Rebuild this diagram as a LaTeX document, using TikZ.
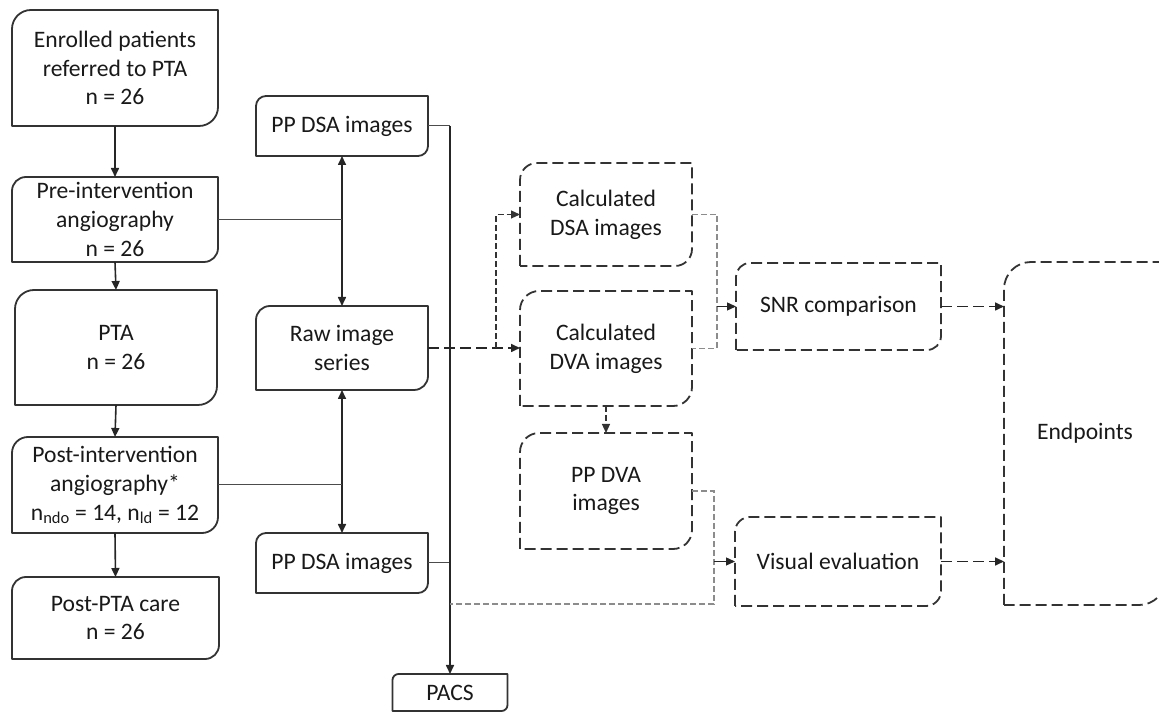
\documentclass[tikz,border=0pt]{standalone}
\usepackage{fontspec}
\setmainfont{Carlito}
\usetikzlibrary{arrows.meta}

% frame with rounded top-left and bottom-right corners
\newcommand\dcframe[3][]{%
  \draw[frame,#1] (#2.south west) -- ([yshift=-#3pt]#2.north west)
    arc[start angle=180,end angle=90,radius=#3pt] -- (#2.north east)
    -- ([yshift=#3pt]#2.south east)
    arc[start angle=0,end angle=-90,radius=#3pt] -- cycle;}

\tikzset{
  box/.style={draw=none,inner sep=0pt,outer sep=0pt,align=center,
    font=\fontsize{23.6}{28.8}\selectfont,text=black!90},
  frame/.style={draw=black!80,line width=1.8pt,line join=round},
  dframe/.style={dash pattern=on 11pt off 5pt},
  tip/.style={-{Triangle[length=9pt,width=8pt]}},
  arr/.style={tip,draw=black!85,line width=1.6pt},
  darr/.style={arr,dash pattern=on 11pt off 5pt},
  dbl/.style={{Triangle[length=9pt,width=8pt]}-{Triangle[length=9pt,width=8pt]},draw=black!85,line width=1.6pt},
  feed/.style={draw=black!70,line width=1pt},
  graydash/.style={draw=black!45,line width=1.2pt,dash pattern=on 6pt off 3pt},
  thindash/.style={tip,draw=black!80,line width=1.2pt,dash pattern=on 6pt off 3pt},
}

\begin{document}
\begin{tikzpicture}[x=1pt,y=1pt]
\useasboundingbox (0,0) rectangle (1159,712);

% patient pathway
\node[box,minimum width=206,minimum height=116] (enr) at (115,644) {Enrolled patients\\referred to PTA\\n = 26};
\node[box,minimum width=206,minimum height=85] (pre) at (115,492.5) {Pre-intervention\\angiography\\n = 26};
\node[box,minimum width=202,minimum height=115] (pta) at (116,364.5) {PTA\\n = 26};
\node[box,minimum width=206,minimum height=96] (post) at (115,227) {Post-intervention\\angiography*\\n\textsubscript{ndo} = 14, n\textsubscript{ld} = 12};
\node[box,minimum width=207,minimum height=82] (care) at (115.5,94) {Post-PTA care\\n = 26};

% image handling
\node[box,minimum width=172,minimum height=60] (dsa1) at (342,586) {PP DSA images};
\node[box,minimum width=172,minimum height=84] (raw) at (342,364) {Raw image\\series};
\node[box,minimum width=172,minimum height=60] (dsa2) at (342,149) {PP DSA images};
\node[box,minimum width=115,minimum height=37] (pacs) at (450,19.5) {PACS};

% processing and evaluation
\node[box,minimum width=172,minimum height=103] (cdsa) at (606,497.5) {Calculated\\DSA images};
\node[box,minimum width=172,minimum height=115] (cdva) at (606,363.5) {Calculated\\DVA images};
\node[box,minimum width=172,minimum height=116] (ppdva) at (606,221) {PP DVA\\images};
\node[box,minimum width=205,minimum height=87] (snr) at (838.5,405.5) {SNR comparison};
\node[box,minimum width=206,minimum height=89] (vis) at (838,150.5) {Visual evaluation};
\node[box,minimum width=162,minimum height=343] (endp) at (1085,278.5) {Endpoints};

% frames
\dcframe{enr}{19}
\dcframe{pre}{14}
\dcframe{pta}{19}
\dcframe{post}{16}
\dcframe{care}{14}
\dcframe{dsa1}{10}
\dcframe{raw}{14}
\dcframe{dsa2}{10}
\dcframe{pacs}{6}
\dcframe[dframe]{cdsa}{17}
\dcframe[dframe]{cdva}{19}
\dcframe[dframe]{ppdva}{19}
\dcframe[dframe]{snr}{14}
\dcframe[dframe]{vis}{15}
\dcframe[dframe]{endp}{27}

% junction points
\coordinate (br) at (496,364);
\coordinate (j1) at (717,405.5);
\coordinate (j2) at (714,150.5);
\coordinate (tap) at (450,108);

% patient pathway arrows
\draw[arr] (enr.south) -- (pre.north);
\draw[arr] (pre.south) -- (pta.north);
\draw[arr] (pta.south) -- (post.north);
\draw[arr] (post.south) -- (care.north);

% acquisition links
\draw[dbl] (dsa1.south) -- (raw.north);
\draw[dbl] (raw.south) -- (dsa2.north);
\draw[feed] (pre.east) -- (pre.east -| raw.north);
\draw[feed] (post.east) -- (post.east -| raw.north);

% archive
\draw[feed] (dsa1.east) -- (dsa1.east -| pacs.north);
\draw[feed] (dsa2.east) -- (dsa2.east -| pacs.north);
\draw[arr] (dsa1.east -| pacs.north) -- (pacs.north);

% processing
\draw[darr] (raw.east) -- (raw.east -| cdva.west);
\draw[thindash] (br) |- (cdsa.west);
\draw[thindash] (cdva.south) -- (ppdva.north);

% inputs to SNR comparison
\draw[graydash] (cdsa.east) -- (cdsa.east -| j1) -- (cdva.east -| j1) -- (cdva.east);
\draw[arr,line width=1.3pt] (j1) -- (snr.west);

% inputs to visual evaluation
\draw[graydash] (ppdva.east) -| (tap -| j2) -- (tap);
\draw[arr,line width=1.3pt] (j2) -- (vis.west);

% endpoints
\draw[darr] (snr.east) -- (snr.east -| endp.west);
\draw[darr] (vis.east) -- (vis.east -| endp.west);
\end{tikzpicture}
\end{document}
